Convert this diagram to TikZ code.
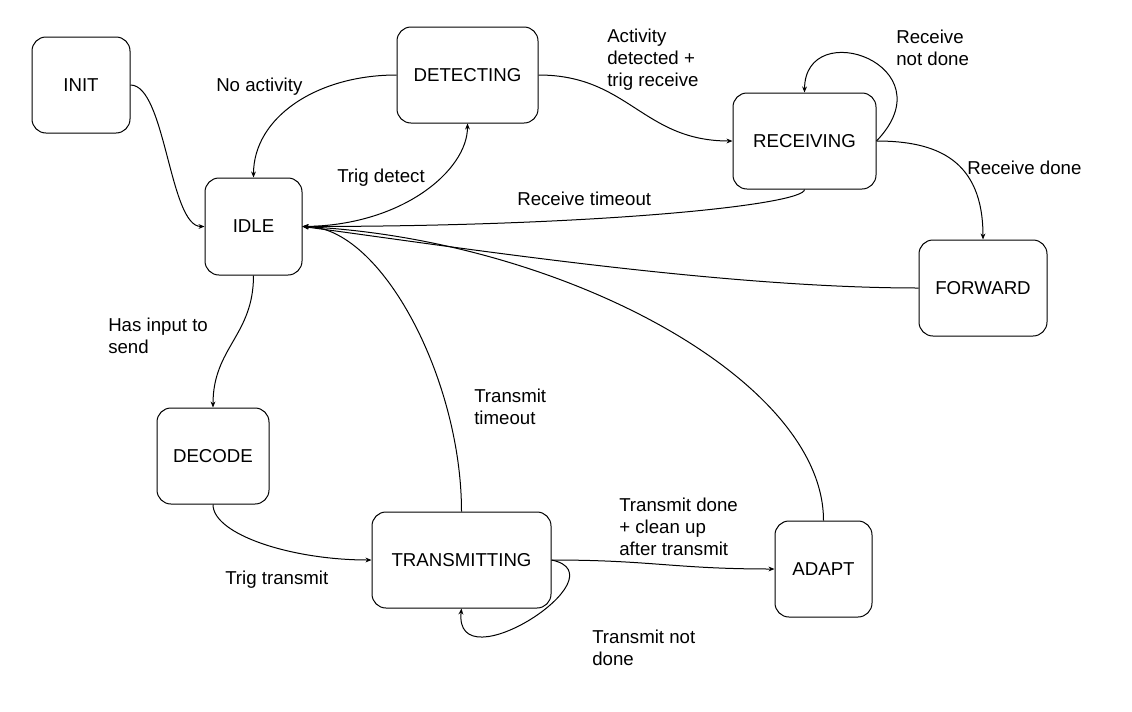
\documentclass[tikz,border=0pt]{standalone}
\usepackage{fontspec}
\setmainfont{Liberation Sans}
\usetikzlibrary{arrows.meta}
\newlength\px
\setlength\px{0.75pt}

\begin{document}
\begin{tikzpicture}[x=0.75pt,y=-0.75pt,
    state/.style={draw,rounded corners=10.5pt,line width=0.75pt,inner sep=0pt,
      font=\fontsize{14}{16.5}\selectfont},
    lbl/.style={anchor=west,align=left,inner sep=0pt,font=\fontsize{14}{16.5}\selectfont},
    trans/.style={line width=0.75pt,-{Stealth[length=4.5pt,width=3.6pt]}}]
  \useasboundingbox (0,0) rectangle (1132,711);
  % states
  \node[state,minimum width=98\px,minimum height=96\px]  (INIT)         at (81,85)      {INIT};
  \node[state,minimum width=141\px,minimum height=96\px] (DETECTING)    at (467.5,75)   {DETECTING};
  \node[state,minimum width=143\px,minimum height=96\px] (RECEIVING)    at (804.5,141)  {RECEIVING};
  \node[state,minimum width=97\px,minimum height=97\px]  (IDLE)         at (253.5,226.5) {IDLE};
  \node[state,minimum width=128\px,minimum height=96\px] (FORWARD)      at (983,288)    {FORWARD};
  \node[state,minimum width=112\px,minimum height=96\px] (DECODE)       at (213,456)    {DECODE};
  \node[state,minimum width=179\px,minimum height=96\px] (TRANSMITTING) at (461.5,560)  {TRANSMITTING};
  \node[state,minimum width=97\px,minimum height=96\px]  (ADAPT)        at (823.5,569)  {ADAPT};
  % transitions
  \draw[trans] (INIT.east) .. controls +(35,0) and +(-35,0) .. (IDLE.west);
  \draw[trans] (DETECTING.west) .. controls +(-80,0) and +(0,-60) .. (IDLE.north);       % no activity
  \draw[trans] (IDLE.east) .. controls +(99,0) and +(0,47) .. (DETECTING.south);          % trig detect
  \draw[trans] (DETECTING.east) .. controls +(90,0) and +(-90,0) .. (RECEIVING.west);     % activity detected
  \draw[trans] (RECEIVING.east) .. controls +(73,-76) and +(0.5,-78) .. (RECEIVING.north); % not done
  \draw[trans] (RECEIVING.east) .. controls +(60,0) and +(0,-80) .. (FORWARD.north);       % done
  \draw[trans] (RECEIVING.south) .. controls +(0,15) and +(300,0) .. (IDLE.east);          % timeout
  \draw[trans] (FORWARD.west) .. controls +(-200,0) and +(150,20) .. (IDLE.east);
  \draw[trans] (IDLE.south) .. controls +(0,60) and +(0,-60) .. (DECODE.north);           % has input
  \draw[trans] (DECODE.south) .. controls +(0,30) and +(-80,0) .. (TRANSMITTING.west);    % trig transmit
  \draw[trans] (TRANSMITTING.north) .. controls +(0,-132) and +(79,0) .. (IDLE.east);     % timeout
  \draw[trans] (ADAPT.north) .. controls +(0,-141) and +(259,13) .. (IDLE.east);
  \draw[trans] (TRANSMITTING.east) .. controls +(100,0) and +(-100,0) .. (ADAPT.west);    % done
  \draw[trans] (TRANSMITTING.east) .. controls +(73,15) and +(-8,77) .. (TRANSMITTING.south); % not done
  % labels
  \node[lbl] (lblNoActivity)  at (216,87)  {No activity};
  \node[lbl] (lblActDetected) at (607,60)  {Activity\\detected +\\trig receive};
  \node[lbl] (lblRecvNotDone) at (896,48)  {Receive\\not done};
  \node[lbl] (lblRecvDone)    at (967,168) {Receive done};
  \node[lbl] (lblTrigDetect)  at (337,178) {Trig detect};
  \node[lbl] (lblRecvTimeout) at (517,199) {Receive timeout};
  \node[lbl] (lblHasInput)    at (108,336) {Has input to\\send};
  \node[lbl] (lblTxTimeout)   at (474,407) {Transmit\\timeout};
  \node[lbl] (lblTrigTx)      at (225,580) {Trig transmit};
  \node[lbl] (lblTxDone)      at (619,527) {Transmit done\\+ clean up\\after transmit};
  \node[lbl] (lblTxNotDone)   at (592,648) {Transmit not\\done};
\end{tikzpicture}
\end{document}
